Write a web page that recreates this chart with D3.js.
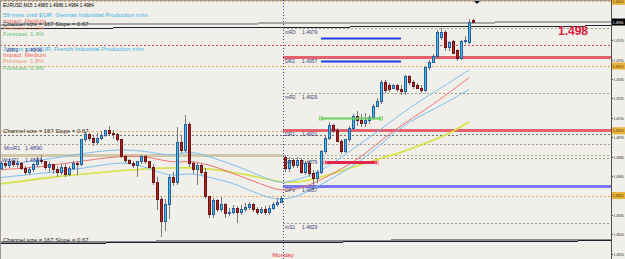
<!DOCTYPE html>
<meta charset="utf-8">
<style>
  body { margin: 0; background: #f0efe9; }
  svg { display: block; font-family: "Liberation Sans", Arial, sans-serif; }
</style>
<svg width="625" height="259"></svg>
<script src="https://d3js.org/d3.v7.min.js"></script>
<script>
// ---- candles (M15 EURUSD), oldest first ----
var opens = [1.4871,1.4875,1.4873,1.4876,1.4874,1.4875,1.4871,1.4868,1.4870,1.4874,1.4877,1.4876,1.4872,1.4874,1.4870,1.4868,1.4872,1.4866,1.4871,1.4875,
  1.4874,1.4893,1.4897,1.4894,1.4891,1.4894,1.4896,1.4900,1.4898,1.4897,1.4893,1.4880,1.4877,1.4875,1.4873,1.4876,1.4880,1.4876,1.4872,1.4860,
  1.4847,1.4830,1.4843,1.4864,1.4860,1.4891,1.4885,1.4905,1.4875,1.4870,1.4873,1.4868,1.4849,1.4835,1.4846,1.4839,1.4843,1.4836,1.4837,1.4840,
  1.4837,1.4839,1.4841,1.4843,1.4839,1.4837,1.4839,1.4837,1.4840,1.4843,1.4845,
  1.4879,1.4871,1.4877,1.4873,1.4877,1.4868,1.4875,1.4867,1.4863,1.4868,1.4884,1.4894,1.4904,1.4900,1.4892,1.4884,1.4893,1.4902,1.4911,1.4908,
  1.4906,1.4908,1.4910,1.4919,1.4923,1.4937,1.4935,1.4933,1.4935,1.4932,1.4930,1.4942,1.4937,1.4935,1.4933,1.4931,1.4949,1.4953,1.4957,1.4972,
  1.4976,1.4964,1.4969,1.4962,1.4956,1.4969,1.4968,1.4985];
var highs = [1.4877,1.4877,1.4879,1.4877,1.4877,1.4876,1.4873,1.4872,1.4875,1.4880,1.4881,1.4877,1.4876,1.4874,1.4873,1.4874,1.4874,1.4873,1.4877,1.4877,
  1.4894,1.4899,1.4898,1.4896,1.4898,1.4900,1.4901,1.4904,1.4901,1.4898,1.4894,1.4881,1.4878,1.4877,1.4877,1.4881,1.4881,1.4877,1.4874,1.4864,
  1.4850,1.4847,1.4866,1.4868,1.4903,1.4897,1.4912,1.4907,1.4877,1.4875,1.4874,1.4871,1.4850,1.4848,1.4847,1.4849,1.4844,1.4840,1.4843,1.4842,
  1.4843,1.4844,1.4845,1.4844,1.4841,1.4841,1.4842,1.4843,1.4845,1.4848,1.4850,
  1.4881,1.4880,1.4879,1.4880,1.4879,1.4877,1.4877,1.4870,1.4870,1.4885,1.4896,1.4907,1.4905,1.4902,1.4894,1.4894,1.4904,1.4913,1.4915,1.4913,
  1.4914,1.4912,1.4921,1.4925,1.4939,1.4939,1.4937,1.4936,1.4936,1.4935,1.4943,1.4943,1.4939,1.4937,1.4935,1.4950,1.4955,1.4959,1.4978,1.4979,
  1.4978,1.4969,1.4970,1.4963,1.4970,1.4973,1.4986,1.4986];
var lows = [1.4870,1.4871,1.4871,1.4872,1.4871,1.4870,1.4866,1.4866,1.4868,1.4872,1.4874,1.4870,1.4868,1.4867,1.4864,1.4866,1.4864,1.4865,1.4870,1.4866,
  1.4873,1.4891,1.4892,1.4888,1.4889,1.4893,1.4895,1.4897,1.4894,1.4891,1.4879,1.4875,1.4874,1.4871,1.4864,1.4874,1.4874,1.4871,1.4858,1.4839,
  1.4818,1.4823,1.4832,1.4857,1.4858,1.4883,1.4884,1.4872,1.4867,1.4858,1.4866,1.4847,1.4833,1.4833,1.4837,1.4837,1.4833,1.4834,1.4836,1.4829,
  1.4835,1.4837,1.4839,1.4837,1.4835,1.4836,1.4835,1.4835,1.4839,1.4841,1.4844,
  1.4868,1.4868,1.4871,1.4871,1.4867,1.4866,1.4864,1.4854,1.4860,1.4867,1.4882,1.4893,1.4898,1.4891,1.4882,1.4883,1.4891,1.4901,1.4904,1.4903,
  1.4903,1.4905,1.4908,1.4918,1.4921,1.4929,1.4930,1.4932,1.4930,1.4928,1.4928,1.4935,1.4932,1.4932,1.4929,1.4930,1.4947,1.4952,1.4956,1.4970,
  1.4962,1.4962,1.4959,1.4954,1.4955,1.4967,1.4967,1.4984];
var closes = [1.4875,1.4873,1.4876,1.4874,1.4875,1.4871,1.4868,1.4870,1.4874,1.4877,1.4876,1.4872,1.4874,1.4870,1.4868,1.4872,1.4866,1.4871,1.4875,1.4874,
  1.4893,1.4897,1.4894,1.4891,1.4894,1.4896,1.4900,1.4898,1.4897,1.4893,1.4880,1.4877,1.4875,1.4873,1.4876,1.4880,1.4876,1.4872,1.4860,1.4847,
  1.4830,1.4843,1.4864,1.4860,1.4891,1.4885,1.4905,1.4875,1.4870,1.4873,1.4868,1.4849,1.4835,1.4846,1.4839,1.4843,1.4836,1.4837,1.4840,1.4837,
  1.4839,1.4841,1.4843,1.4839,1.4837,1.4839,1.4837,1.4840,1.4843,1.4845,1.4848,
  1.4871,1.4877,1.4873,1.4877,1.4868,1.4875,1.4867,1.4863,1.4868,1.4884,1.4894,1.4904,1.4900,1.4892,1.4884,1.4893,1.4902,1.4911,1.4908,1.4906,
  1.4908,1.4910,1.4919,1.4923,1.4937,1.4931,1.4932,1.4935,1.4932,1.4930,1.4942,1.4937,1.4934,1.4933,1.4931,1.4949,1.4953,1.4957,1.4976,1.4976,
  1.4964,1.4968,1.4960,1.4956,1.4969,1.4970,1.4984,1.4984];
var mondayBar = 71;

// ---- moving averages / bands, sampled [bar, price] ----
var bandUpper = [[0,1.4874],[10,1.4877],[21,1.4883],[30,1.4886],[37,1.4884],[43,1.4880],[47,1.4885],[52,1.4880],[58,1.4874],[65,1.4865],[69,1.4860],[72,1.4860],[80,1.4868],[87,1.4884],[95,1.4901],[102,1.4918],[110,1.4933],[117,1.4947]];
var maMiddle = [[0,1.4870],[10,1.4872],[21,1.4877],[31,1.4881],[37,1.4880],[43,1.4875],[47,1.4877],[52,1.4874],[58,1.4867],[65,1.4859],[70,1.4853],[75,1.4855],[82,1.4865],[90,1.4879],[97,1.4898],[105,1.4914],[111,1.4927],[117,1.4941]];
var bandLower = [[0,1.4864],[10,1.4867],[21,1.4871],[31,1.4877],[37,1.4871],[43,1.4864],[47,1.4868],[52,1.4864],[58,1.4860],[65,1.4850],[70,1.4846],[75,1.4850],[82,1.4862],[90,1.4876],[99,1.4901],[105,1.4912],[111,1.4921],[117,1.4932]];
var maSlow = [[0,1.4859],[12,1.4864],[25,1.4868],[37,1.4871],[50,1.4872],[58,1.4868],[65,1.4864],[70,1.4860],[75,1.4860],[82,1.4866],[90,1.4874],[95,1.4879],[100,1.4883],[105,1.4889],[110,1.4895],[114,1.4901],[117,1.4907]];

// ---- levels ----
var pivotNames = ["mR3","DR2","mR2","DR1","mP","DPV","mS1"];
var pivotValues = [1.4979, 1.4957, 1.4929, 1.4901, 1.4879, 1.4857, 1.4829];
var weekNames = ["WR1","MmR1","WmR1"];
var weekValues = [1.4966, 1.4890, 1.4881];
var roundLevels = [1.5000, 1.4950, 1.4900, 1.4850];
var channelTop = [1.4982, 1.4984], channelTopEdge = [1.4979, 1.4981];
var channelMid = [1.4896, 1.4897];
var channelLow = [1.4813, 1.4815], channelLowEdge = [1.4814, 1.4816];
var channelText = "Channel size = 167 Slope = 0.67";
var zoneBlue = [1.4972, 1.4954], zoneGreen = 1.4910, zoneRed = 1.4876;
var axisTicks = [1.4805,1.4820,1.4835,1.4850,1.4865,1.4880,1.4895,1.4910,1.4925,1.4940,1.4955,1.4970];
var bigPrice = "1.498";

var news = [
  ["59 mins until EUR: German Industrial Production m/m", "#3ab2e6", 17],
  ["Impact: Medium", "#f0625c", 22.5],
  ["Previous: 1.1%", "#e89a72", 29.5],
  ["Forecast: 1.4%", "#5cc27c", 35.5],
  ["2 hours until EUR: French Industrial Production m/m", "#3ab2e6", 50.5],
  ["Impact: Medium", "#f0625c", 56.5],
  ["Previous: 1.8%", "#e89a72", 63],
  ["Forecast: 0.9%", "#5cc27c", 69.5]
];

var svg = d3.select("svg"),
    width = +svg.attr("width"),
    height = +svg.attr("height"),
    right = 611;

var x = d3.scaleLinear().domain([0, 118]).range([1, 473]);
var y = d3.scaleLinear().domain([1.4801, 1.5001]).range([height, 0]);
var sepX = Math.round(x(mondayBar - 0.5));
var fmt = d3.format(".4f");

svg.append("rect").attr("width", width).attr("height", height).attr("fill", "#f0efe9");

var g = svg.append("g");

function hline(v, x0, x1, color, w, dash) {
  var yy = Math.round(y(v)) + 0.5;
  g.append("line").attr("x1", x0).attr("x2", x1).attr("y1", yy).attr("y2", yy)
    .attr("stroke", color).attr("stroke-width", w).attr("stroke-dasharray", dash || null);
}

// round levels
roundLevels.forEach(function(v) { hline(v, 0, right, "#eda850", 1, "2,2"); });
// weekly / monthly levels
hline(weekValues[0], 0, right, "#e04848", 1, "2,2");
hline(weekValues[1], 0, right, "#a8a088", 1, "2,2");
hline(weekValues[2], 0, sepX, "#cfc7a8", 3);
hline(weekValues[2], sepX, right, "#a8a898", 1, "2,2");
// channel middle
g.append("line").attr("x1", 0).attr("x2", right)
  .attr("y1", y(channelMid[0])).attr("y2", y(channelMid[1]))
  .attr("stroke", "#707070").attr("stroke-dasharray", "2,2").attr("shape-rendering", "crispEdges");

// pivots (right side of the separator)
pivotNames.forEach(function(n, i) {
  var v = pivotValues[i];
  if (n[0] === "D" && n !== "DPV") hline(v, sepX, right, "#e4626e", 3);
  else if (n === "DPV") hline(v, sepX, right, "#7878f2", 3);
  else hline(v, sepX, right, "#a09c80", 1, "2,2");
});

// channel borders (slightly sloped, crisp steps)
function chan(p, color, w) {
  g.append("line").attr("x1", 0).attr("x2", right)
    .attr("y1", y(p[0])).attr("y2", y(p[1]))
    .attr("stroke", color).attr("stroke-width", w).attr("shape-rendering", "crispEdges");
}
chan(channelTop, "#a8a8a8", 2);
chan(channelTopEdge, "#202030", 1);
chan(channelLowEdge, "#8a8a8a", 2);
chan(channelLow, "#202030", 1);

// frame line on top
g.append("line").attr("x1", 0).attr("x2", right).attr("y1", 0.5).attr("y2", 0.5).attr("stroke", "#a0a0a0");
g.append("line").attr("x1", 0.5).attr("x2", 0.5).attr("y1", 0).attr("y2", height).attr("stroke", "#9a9a9a");

// Monday separator
g.append("line").attr("x1", sepX + 0.5).attr("x2", sepX + 0.5).attr("y1", 0).attr("y2", height)
  .attr("stroke", "#3c3c9c").attr("stroke-dasharray", "1,2");

// moving averages
var line = d3.line().x(function(d) { return x(d[0]); }).y(function(d) { return y(d[1]); }).curve(d3.curveBasis);
g.append("path").datum(maSlow).attr("d", line).attr("fill", "none").attr("stroke", "#d6e23e").attr("stroke-width", 1.6);
g.append("path").datum(bandUpper).attr("d", line).attr("fill", "none").attr("stroke", "#7cc0f2").attr("stroke-width", 1);
g.append("path").datum(bandLower).attr("d", line).attr("fill", "none").attr("stroke", "#7cc0f2").attr("stroke-width", 1);
g.append("path").datum(maMiddle).attr("d", line).attr("fill", "none").attr("stroke", "#f07272").attr("stroke-width", 1);

// candles
var bars = d3.range(opens.length);
var cg = g.append("g").attr("shape-rendering", "crispEdges");
cg.selectAll(".wick").data(bars).enter().append("line")
  .attr("x1", function(i) { return Math.round(x(i)) + 0.5; })
  .attr("x2", function(i) { return Math.round(x(i)) + 0.5; })
  .attr("y1", function(i) { return y(highs[i]); })
  .attr("y2", function(i) { return y(lows[i]); })
  .attr("stroke", "#7a7a7a");
cg.selectAll(".body").data(bars).enter().append("rect")
  .attr("x", function(i) { return Math.round(x(i)) - 0.5; })
  .attr("width", 2)
  .attr("y", function(i) { return Math.min(y(opens[i]), y(closes[i])); })
  .attr("height", function(i) { return Math.max(1, Math.abs(y(opens[i]) - y(closes[i]))); })
  .attr("fill", function(i) { return closes[i] >= opens[i] ? "#3cc8c8" : "#b02424"; })
  .attr("stroke", function(i) { return closes[i] >= opens[i] ? "#2a5aa8" : "#6e1212"; });

// zones on top
hline(zoneBlue[0], x(80), x(100), "#1f3fe0", 2);
hline(zoneBlue[1], x(80), x(100), "#1f3fe0", 2);
hline(zoneGreen, x(80), x(95), "#66d060", 2);
hline(zoneRed, x(81), x(94), "#e0284e", 3);
[[80, zoneGreen], [95, zoneGreen], [81, zoneRed], [94, zoneRed]].forEach(function(d) {
  g.append("rect").attr("x", x(d[0]) - 1.5).attr("y", Math.round(y(d[1])) - 1).attr("width", 3).attr("height", 3)
    .attr("fill", "none").attr("stroke", d[1] === zoneGreen ? "#66d060" : "#f08090").attr("stroke-width", 0.8);
});

// texts
var tg = svg.append("g");
tg.append("text").attr("x", 3).attr("y", 7).attr("font-size", 4.6).attr("fill", "#000")
  .text("EURUSD,M15  " + [opens[118], highs[118], lows[118], closes[118]].map(fmt).join(" "));
news.forEach(function(d) {
  tg.append("text").attr("x", 3).attr("y", d[2]).attr("font-size", 6.1).attr("fill", d[1]).text(d[0]);
});
[[channelTopEdge[0], 26], [channelMid[0], 133], [channelLow[0], 241.5]].forEach(function(d) {
  tg.append("text").attr("x", 3).attr("y", d[1]).attr("font-size", 5.9).attr("fill", "#2a2a2a").text(channelText);
});
weekNames.forEach(function(n, i) {
  var yy = y(weekValues[i]) + 6.5, x0 = i === 2 ? 2 : (i === 0 ? 6 : 4);
  tg.append("text").attr("x", x0).attr("y", yy).attr("font-size", 5.6).attr("fill", "#3c3c8c").text(n);
  tg.append("text").attr("x", 25).attr("y", yy).attr("font-size", 5.6).attr("fill", "#3c3c8c").text(fmt(weekValues[i]));
});
pivotNames.forEach(function(n, i) {
  var yy = y(pivotValues[i]) + 6;
  tg.append("text").attr("x", sepX + 2).attr("y", yy).attr("font-size", 5).attr("fill", "#3c3c78").text(n);
  tg.append("text").attr("x", sepX + 19).attr("y", yy).attr("font-size", 5).attr("fill", "#3c3c78").text(fmt(pivotValues[i]));
});
tg.append("text").attr("x", 558).attr("y", 34.5).attr("font-size", 12).attr("font-weight", "bold")
  .attr("fill", "#e2203c").text(bigPrice);
tg.append("text").attr("x", sepX).attr("y", 257).attr("font-size", 6).attr("text-anchor", "middle")
  .attr("fill", "#e03030").text("Monday");
tg.append("path").attr("d", "M474,1 L480,1 L477,4 Z").attr("fill", "#111");

// right price axis
var ax = svg.append("g");
ax.append("rect").attr("x", right).attr("y", 0).attr("width", width - right).attr("height", height).attr("fill", "#f0efe9");
ax.append("line").attr("x1", right + 0.5).attr("x2", right + 0.5).attr("y1", 0).attr("y2", height).attr("stroke", "#505050");
axisTicks.forEach(function(v) {
  var yy = Math.round(y(v)) + 0.5;
  ax.append("line").attr("x1", right).attr("x2", right + 2).attr("y1", yy).attr("y2", yy).attr("stroke", "#505050");
  ax.append("text").attr("x", right + 2.5).attr("y", yy + 1.5).attr("font-size", 4)
    .attr("textLength", 10.5).attr("lengthAdjust", "spacingAndGlyphs").attr("fill", "#303030").text(fmt(v));
});
function tag(v, bg, fg) {
  var yy = y(v);
  ax.append("rect").attr("x", right + 1).attr("y", yy - 3.5).attr("width", width - right - 1).attr("height", 7).attr("fill", bg);
  ax.append("text").attr("x", right + 1.8).attr("y", yy + 1.5).attr("font-size", 4)
    .attr("textLength", 10.5).attr("lengthAdjust", "spacingAndGlyphs").attr("fill", fg).text(fmt(v));
}
roundLevels.forEach(function(v) { tag(v, "#e6b23a", "#5a3a00"); });
tag(closes[closes.length - 1], "#000", "#fff");
</script>
